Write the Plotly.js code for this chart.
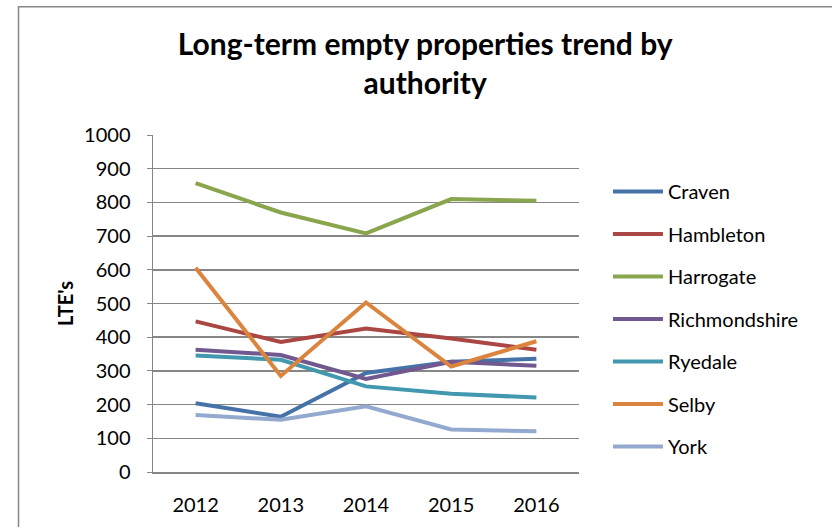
<!DOCTYPE html>
<html>
<head>
<meta charset="utf-8">
<script src="https://cdn.plot.ly/plotly-3.0.1.min.js"></script>
<style>
  html, body { margin: 0; padding: 0; background: #ffffff; }
  #chart { width: 832px; height: 527px; }
</style>
</head>
<body>
<div id="chart"></div>
<script>
// Data
const years = ["2012", "2013", "2014", "2015", "2016"];
const seriesNames = ["Craven", "Hambleton", "Harrogate", "Richmondshire", "Ryedale", "Selby", "York"];
const craven        = [204, 164, 294, 327, 336];
const hambleton     = [447, 386, 426, 396, 363];
const harrogate     = [857, 770, 708, 810, 805];
const richmondshire = [363, 347, 276, 327, 315];
const ryedale       = [346, 333, 254, 232, 221];
const selby         = [606, 285, 503, 313, 388];
const york          = [169, 155, 195, 126, 121];
const yTicks = [0, 100, 200, 300, 400, 500, 600, 700, 800, 900, 1000];

const seriesValues = [craven, hambleton, harrogate, richmondshire, ryedale, selby, york];
const colors = ["#4572A7", "#AA4643", "#89A54E", "#71588F", "#4198AF", "#DB843D", "#93A9CF"];

const FONT = "Lato, 'Open Sans', sans-serif";

const traces = seriesNames.map((name, i) => ({
  type: "scatter",
  mode: "lines",
  name: name,
  x: years,
  y: seriesValues[i],
  legendgroup: name,
  line: { color: colors[i], width: 4 }
}));

const layout = {
  width: 832,
  height: 527,
  paper_bgcolor: "#ffffff",
  plot_bgcolor: "#ffffff",
  margin: { l: 153, r: 253, t: 135, b: 55, pad: 0 },
  font: { family: FONT, size: 20, color: "#000000" },
  title: {
    text: "Long-term empty properties trend by<br>authority",
    font: { family: FONT, size: 30, weight: "bold", color: "#000000" },
    x: 0.511, xref: "container", xanchor: "center",
    y: 0.895, yref: "container", yanchor: "top"
  },
  xaxis: {
    type: "category",
    range: [-0.5, 4.5],
    showgrid: false,
    zeroline: false,
    showline: true,
    linecolor: "#868686",
    linewidth: 1.5,
    ticks: "",
    ticklabelstandoff: 14,
    tickfont: { family: FONT, size: 20, color: "#000000" },
    fixedrange: true
  },
  yaxis: {
    range: [0, 1000],
    tickvals: yTicks,
    ticktext: yTicks.map(String),
    showgrid: true,
    gridcolor: "#868686",
    gridwidth: 1.5,
    zeroline: false,
    showline: true,
    linecolor: "#868686",
    linewidth: 1.5,
    ticks: "outside",
    ticklen: 5,
    tickcolor: "#868686",
    ticklabelstandoff: 12,
    tickfont: { family: FONT, size: 20, color: "#000000" },
    title: {
      text: "LTE's",
      font: { family: FONT, size: 20, weight: "bold", color: "#000000" },
      standoff: 5
    },
    fixedrange: true
  },
  showlegend: true,
  legend: {
    x: 1.068, xanchor: "left",
    y: 0.89, yanchor: "top",
    xref: "paper", yref: "paper",
    font: { family: FONT, size: 20, color: "#000000" },
    bgcolor: "rgba(0,0,0,0)",
    borderwidth: 0,
    tracegroupgap: 13.5,
    itemwidth: 50,
    traceorder: "grouped"
  },
  shapes: [{
    type: "rect",
    xref: "paper", yref: "paper",
    x0: -0.3157, x1: 2.5, y0: -1, y1: 1.3807,
    line: { color: "#868686", width: 1.5 },
    fillcolor: "rgba(0,0,0,0)",
    layer: "below"
  }]
};

Plotly.newPlot("chart", traces, layout, { displayModeBar: false, staticPlot: true });
</script>
</body>
</html>
